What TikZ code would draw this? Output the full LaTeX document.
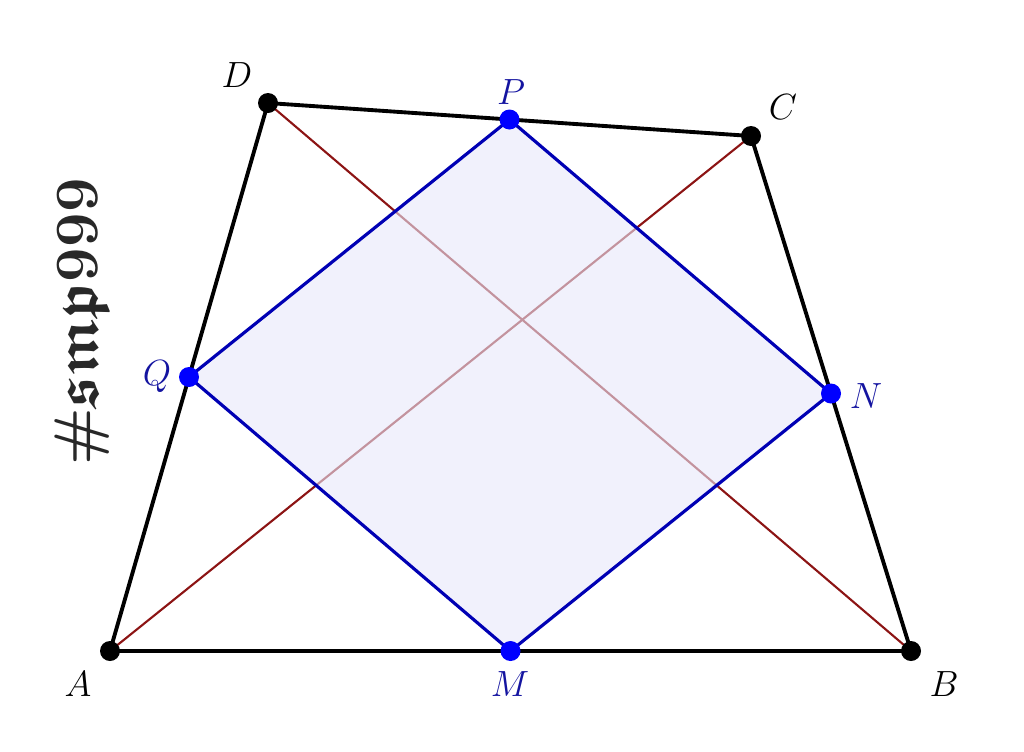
\documentclass[tikz,border=0pt]{standalone}
\usepackage{amsmath,amssymb}
\usetikzlibrary{calc}
\definecolor{diagred}{RGB}{140,20,20}
\definecolor{sideblue}{RGB}{0,0,180}
\definecolor{ptblue}{RGB}{0,0,255}
\definecolor{lblblue}{RGB}{20,20,160}
\definecolor{quadfill}{RGB}{232,232,250}
\definecolor{wmark}{RGB}{40,40,40}
\tikzset{
  vtx/.style={circle, fill=black, inner sep=0pt, minimum size=20*0.02cm},
  mid/.style={circle, fill=ptblue, inner sep=0pt, minimum size=20*0.02cm},
  lbl/.style={font=\fontsize{20}{20}\selectfont},
}

\begin{document}
\begin{tikzpicture}[x=0.02cm, y=-0.02cm]
	\useasboundingbox (0,0) rectangle (1024,751);
	% trapezoid corners
	\coordinate (A) at (110,651);
	\coordinate (B) at (911,651);
	\coordinate (C) at (751,136);
	\coordinate (D) at (268,103);
	% midpoints of the sides
	\coordinate (M) at ($(A)!0.5!(B)$);
	\coordinate (N) at ($(B)!0.5!(C)$);
	\coordinate (P) at ($(C)!0.5!(D)$);
	\coordinate (Q) at ($(D)!0.5!(A)$);

	\draw[diagred, line width=1.2pt] (A) -- (C);
	\draw[diagred, line width=1.2pt] (B) -- (D);
	\draw[black, line width=2.2pt, line join=round] (A) -- (B) -- (C) -- (D) -- cycle;
	\fill[quadfill, opacity=0.6] (M) -- (N) -- (P) -- (Q) -- cycle;
	\draw[sideblue, line width=1.8pt, line join=round] (M) -- (N) -- (P) -- (Q) -- cycle;

	\foreach \v in {A,B,C,D} \node[vtx] (v\v) at (\v) {};
	\foreach \v in {M,N,P,Q} \node[mid] (v\v) at (\v) {};

	\node[lbl] (lA) at (78,684) {$A$};
	\node[lbl] (lB) at (944,684) {$B$};
	\node[lbl] (lC) at (783,107) {$C$};
	\node[lbl] (lD) at (237,75) {$D$};
	\node[lbl, text=lblblue] (lM) at (510,684) {$M$};
	\node[lbl, text=lblblue] (lN) at (866,396) {$N$};
	\node[lbl, text=lblblue] (lP) at (511,92) {$P$};
	\node[lbl, text=lblblue] (lQ) at (157,377) {$Q$};

	% watermark
	\node[rotate=90, text=wmark, font=\fontsize{35}{35}\selectfont\bfseries] (tag) at (82,322)
		{\#$\boldsymbol{\mathfrak{smp}}$999};
\end{tikzpicture}
\end{document}
